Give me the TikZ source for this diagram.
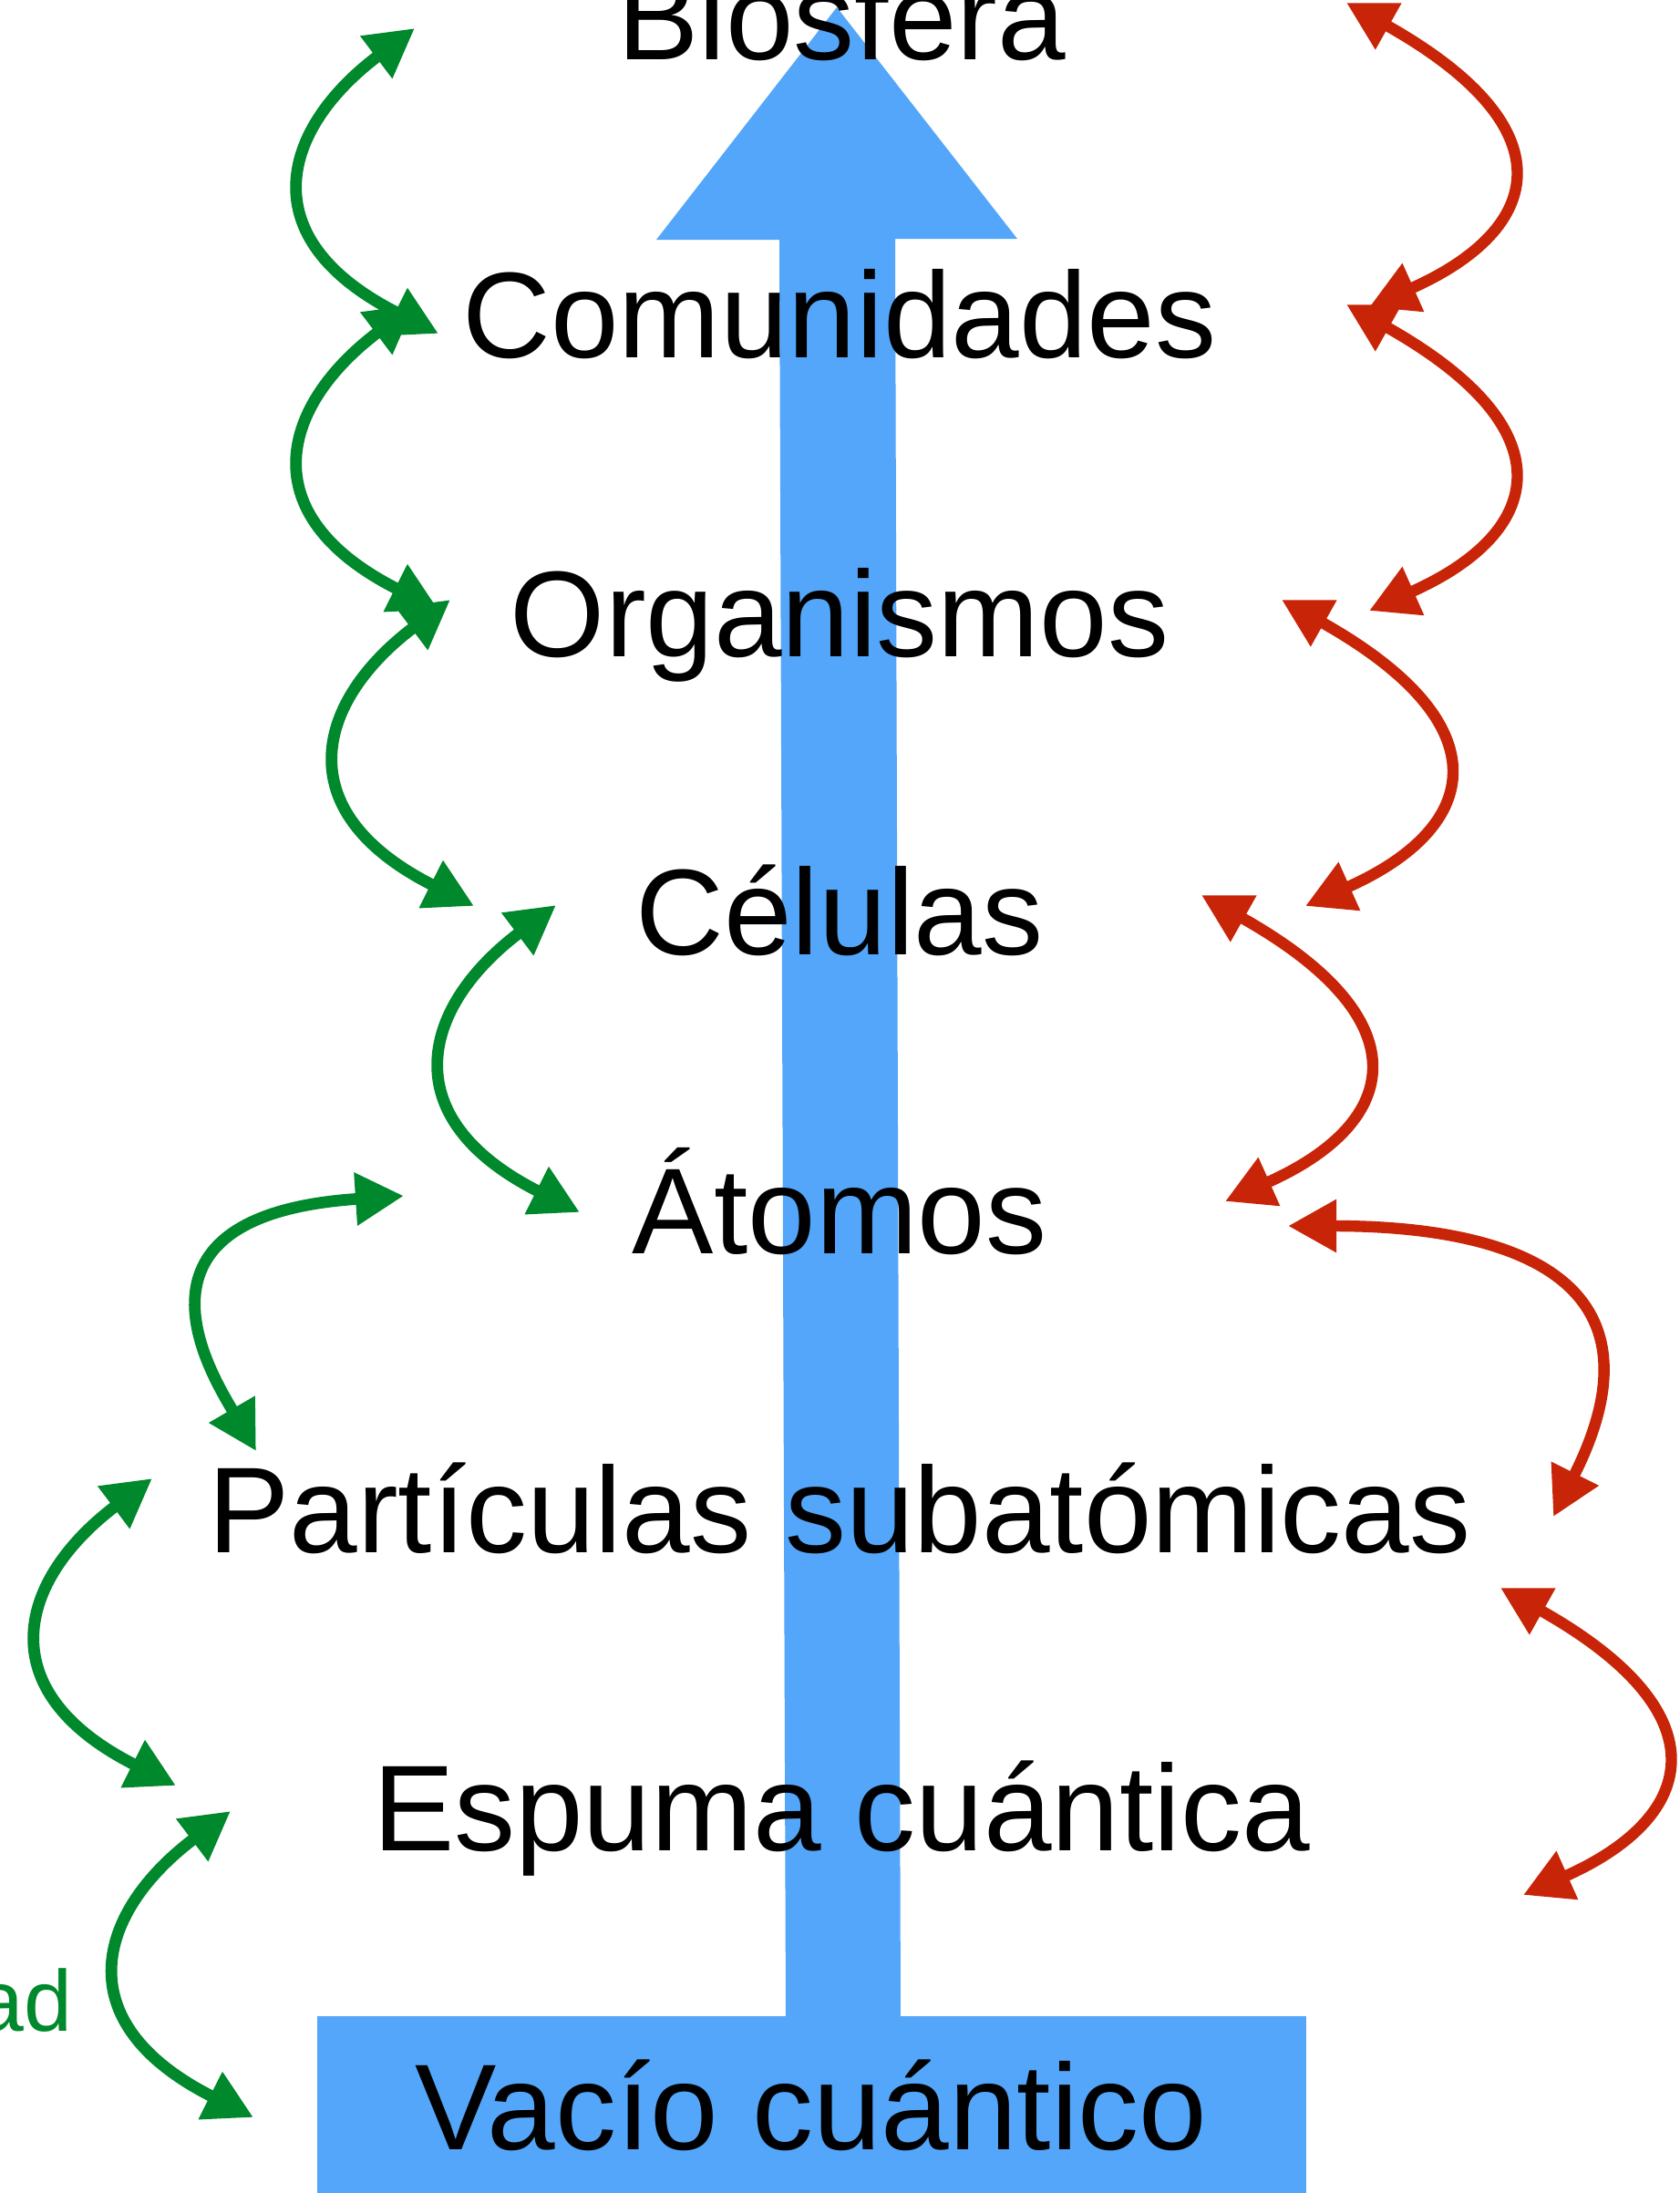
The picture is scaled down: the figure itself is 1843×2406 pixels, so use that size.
\documentclass[tikz,border=0pt]{standalone}
\usepackage{fontspec}
\setmainfont{Liberation Sans}
\usetikzlibrary{arrows.meta,calc}
\definecolor{bluearr}{RGB}{83,166,249}
\definecolor{greenarr}{RGB}{0,136,44}
\definecolor{redarr}{RGB}{200,37,8}
\tikzset{
  level/.style={anchor=base,inner sep=0pt,font=\fontsize{67pt}{80pt}\selectfont},
  garr/.style={draw=greenarr,line width=6.4pt,{Triangle[length=26.5pt,width=27.5pt]}-{Triangle[length=26.5pt,width=27.5pt]}},
  rarr/.style={draw=redarr,line width=6.2pt,{Triangle[length=26.5pt,width=27.5pt]}-{Triangle[length=26.5pt,width=27.5pt]}},
}
\newcommand\greenwave[2]{\draw[garr] (#1) .. controls ($(#1)+(-146,110)$) and ($(#2)+(-208,-105)$) .. (#2);}
\newcommand\redwave[2]{\draw[rarr] (#1) .. controls ($(#1)+(242,136)$) and ($(#2)+(195,-87)$) .. (#2);}
\begin{document}
\begin{tikzpicture}[x=0.5pt,y=-0.5pt]
\useasboundingbox (0,0) rectangle (1843,2406);
% blue base and arrow
\fill[bluearr] (348,2212) rectangle (1433,2420);
\fill[bluearr] (862,2214) -- (855,263) -- (720,263) -- (918,8) -- (1116,262) -- (982,262) -- (988,2214) -- cycle;
% levels
\node[level] (bio) at (923,65) {Biosfera};
\node[level] (com) at (921,392) {Comunidades};
\node[level] (org) at (921,720) {Organismos};
\node[level] (cel) at (921,1047) {Células};
\node[level] (ato) at (921,1375) {Átomos};
\node[level] (par) at (921,1703) {Partículas subatómicas};
\node[level] (esp) at (923,2030) {Espuma cuántica};
\node[level] (vac) at (890,2358) {Vacío cuántico};
\node[anchor=base east,inner sep=0pt,text=greenarr,font=\fontsize{47.5pt}{56pt}\selectfont] (lab) at (80,2228) {ad};
% green tips
\coordinate (g1s) at (455,31);  \coordinate (g1e) at (481,366);
\coordinate (g2s) at (455,334); \coordinate (g2e) at (481,669);
\coordinate (g3s) at (494,658); \coordinate (g3e) at (520,994);
\coordinate (g4s) at (610,993); \coordinate (g4e) at (636,1330);
\coordinate (g5s) at (443,1312); \coordinate (g5e) at (281,1592);
\coordinate (g6s) at (167,1622); \coordinate (g6e) at (193,1959);
\coordinate (g7s) at (253,1987); \coordinate (g7e) at (278,2323);
\greenwave{g1s}{g1e}
\greenwave{g2s}{g2e}
\greenwave{g3s}{g3e}
\greenwave{g4s}{g4e}
\draw[garr] (g5s) .. controls (123,1333) and (231,1506) .. (g5e);
\greenwave{g6s}{g6e}
\greenwave{g7s}{g7e}
% red tips
\coordinate (r1s) at (1477,3);   \coordinate (r1e) at (1502,337);
\coordinate (r2s) at (1477,334); \coordinate (r2e) at (1502,670);
\coordinate (r3s) at (1406,658); \coordinate (r3e) at (1432,994);
\coordinate (r4s) at (1318,982); \coordinate (r4e) at (1344,1318);
\coordinate (r5s) at (1413,1345); \coordinate (r5e) at (1704,1664);
\coordinate (r6s) at (1646,1742); \coordinate (r6e) at (1671,2079);
\redwave{r1s}{r1e}
\redwave{r2s}{r2e}
\redwave{r3s}{r3e}
\redwave{r4s}{r4e}
\draw[rarr] (r5s) .. controls (1663,1345) and (1834,1406) .. (r5e);
\redwave{r6s}{r6e}
\end{tikzpicture}
\end{document}
